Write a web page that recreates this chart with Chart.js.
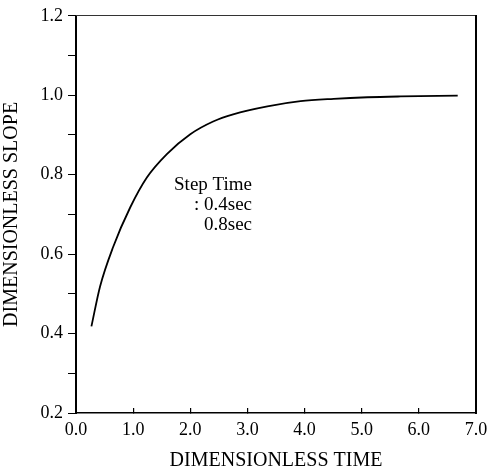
<!DOCTYPE html>
<html>
<head>
<meta charset="utf-8">
<script src="https://cdn.jsdelivr.net/npm/chart.js@4"></script>
<style>
  body { margin: 0; background: #fff; }
  canvas { display: block; }
</style>
</head>
<body>
<canvas id="chart" width="487" height="473"></canvas>
<script>
'use strict'
// values
const times = [0.27, 0.42, 0.65, 0.95, 1.24, 1.59, 2.0, 2.4, 2.75, 3.35, 3.93, 4.51, 5.1, 5.68, 6.68];
const slopes = [0.418, 0.518, 0.618, 0.718, 0.793, 0.852, 0.902, 0.934, 0.952, 0.972, 0.985, 0.991, 0.995, 0.997, 0.999];
const legendLines = ['Step Time', ': 0.4sec', '0.8sec'];
const legendAnchor = { x: 3.08, y: 0.775 };

const serif = 'Liberation Serif';

// free text block in the middle of the plot
const legendText = {
    id: 'legendText',
    afterDraw(chart) {
        const ctx = chart.ctx;
        const px = chart.scales.x.getPixelForValue(legendAnchor.x);
        const py = chart.scales.y.getPixelForValue(legendAnchor.y);
        ctx.save();
        ctx.fillStyle = '#000';
        ctx.font = '19px "' + serif + '"';
        ctx.textAlign = 'right';
        ctx.textBaseline = 'middle';
        legendLines.forEach((t, i) => ctx.fillText(t, px, py + i * 20));
        ctx.restore();
    }
};

new Chart(document.getElementById('chart'), {
    type: 'line',
    data: {
        datasets: [{
            data: times.map((t, i) => ({ x: t, y: slopes[i] })),
            borderColor: '#000',
            borderWidth: 1.8,
            pointRadius: 0,
            cubicInterpolationMode: 'monotone',
            fill: false
        }]
    },
    options: {
        responsive: false,
        animation: false,
        devicePixelRatio: 1,
        layout: { padding: { top: 14, right: 11, left: 0, bottom: 0 } },
        plugins: { legend: { display: false }, tooltip: { enabled: false } },
        scales: {
            x: {
                type: 'linear',
                position: 'bottom',
                min: 0, max: 7,
                afterFit: s => { s.height = 60; s.paddingLeft = 0; s.paddingRight = 0; },
                border: { color: '#000', width: 1.5 },
                grid: { drawOnChartArea: false, tickLength: -5, color: '#000', lineWidth: 1.2 },
                ticks: {
                    stepSize: 1,
                    padding: 11,
                    maxRotation: 0,
                    color: '#000',
                    font: { family: serif, size: 18 },
                    callback: v => v.toFixed(1)
                },
                title: {
                    display: true,
                    text: 'DIMENSIONLESS TIME',
                    color: '#000',
                    font: { family: serif, size: 20 },
                    padding: 0
                }
            },
            y: {
                type: 'linear',
                position: 'left',
                min: 0.2, max: 1.2,
                afterFit: s => { s.width = 76; },
                border: { color: '#000', width: 2 },
                grid: { drawOnChartArea: false, tickLength: 8, color: '#000', lineWidth: 1 },
                ticks: {
                    stepSize: 0.1,
                    padding: 5,
                    color: '#000',
                    font: { family: serif, size: 18 },
                    callback: v => (Math.round(v * 10) % 2 === 0 ? v.toFixed(1) : '')
                },
                title: {
                    display: true,
                    text: 'DIMENSIONLESS SLOPE',
                    color: '#000',
                    font: { family: serif, size: 20 },
                    padding: 0
                }
            },
            xTop: {
                type: 'linear',
                position: 'top',
                min: 0, max: 7,
                afterFit: s => { s.height = 0; },
                border: { color: '#333', width: 1 },
                grid: { drawOnChartArea: false, drawTicks: false },
                ticks: { display: false }
            },
            yRight: {
                type: 'linear',
                position: 'right',
                min: 0.2, max: 1.2,
                afterFit: s => { s.width = 0; },
                border: { color: '#000', width: 2 },
                grid: { drawOnChartArea: false, drawTicks: false },
                ticks: { display: false }
            }
        }
    },
    plugins: [legendText]
});
</script>
</body>
</html>
